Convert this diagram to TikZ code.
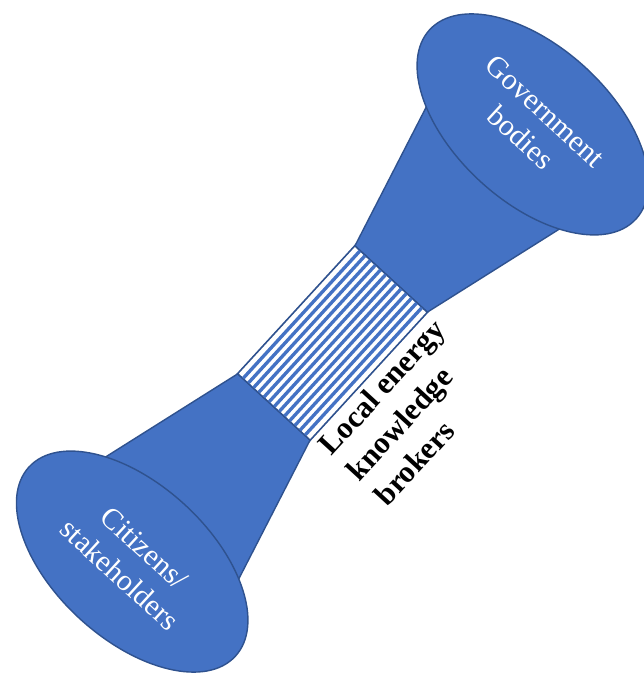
\documentclass[tikz,border=0pt]{standalone}
\usepackage{fontspec}
\setmainfont{Liberation Serif}
\usetikzlibrary{shapes.geometric}
\definecolor{bellblue}{HTML}{4472C4}
\definecolor{belledge}{HTML}{2F528F}
\tikzset{
  blob/.style={ellipse, draw=belledge, fill=bellblue, line width=0.8pt,
    minimum width=5.6cm, minimum height=3.1cm, inner sep=0pt,
    text=white, align=center, font=\fontsize{17}{20.5}\selectfont},
  horn/.style={draw=belledge, fill=bellblue, line width=0.8pt},
  stripe/.style={draw=bellblue, line width=1.9pt},
}
\begin{document}
\begin{tikzpicture}
  \useasboundingbox (0,0) rectangle (12.86,13.5);
  \begin{scope}[shift={(6.65,6.64)}, rotate=47.5, transform shape]
    % the two funnels
    \draw[horn] (1.73,0.98) -- (5.93,2.13) -- (5.93,-2.13) -- (1.73,-0.98) -- cycle;
    \draw[horn] (-1.73,0.98) -- (-5.93,2.13) -- (-5.93,-2.13) -- (-1.73,-0.98) -- cycle;
    \node[blob, rotate=-90] (gov) at (5.93,0) {Government\\bodies};
    \node[blob, rotate=-90] (cit) at (-5.93,0) {Citizens/\\stakeholders};
    % the neck
    \node[draw=belledge, fill=white, line width=0.6pt, inner sep=0pt,
      minimum width=3.46cm, minimum height=1.96cm] (link) at (0,0) {};
    \foreach \k in {1,...,13} {
      \draw[stripe] (-1.73,-0.98+\k*0.14) -- (1.73,-0.98+\k*0.14);
    }
    \draw[belledge, line width=0.6pt] (link.south west) rectangle (link.north east);
    \node[anchor=north west, inner sep=0pt, align=left,
      font=\bfseries\fontsize{17.5}{21.5}\selectfont] (brokers)
      at ([shift={(0.05,-0.1)}]link.south west) {Local energy\\knowledge\\brokers};
  \end{scope}
\end{tikzpicture}
\end{document}
